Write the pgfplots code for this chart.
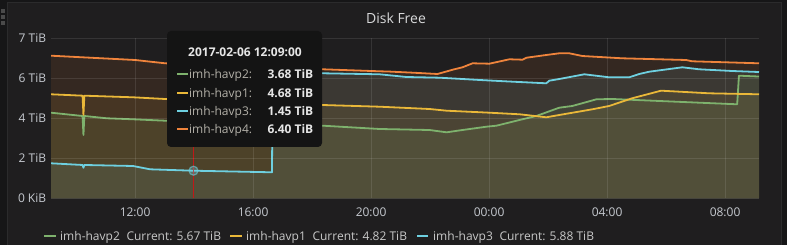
\documentclass[border=0pt]{standalone}
\usepackage{fontspec}
\setmainfont{Open Sans}
\usepackage{pgfplots}
\pgfplotsset{compat=1.18}
\usepackage{pgfplotstable}

\definecolor{cGreen}{HTML}{7EB26D}
\definecolor{cYellow}{HTML}{EAB839}
\definecolor{cCyan}{HTML}{6ED0E0}
\definecolor{cOrange}{HTML}{EF843C}
\definecolor{cRed}{HTML}{C01818}
\definecolor{panelbg}{HTML}{1F1E1F}
\definecolor{outerbg}{HTML}{161617}
\definecolor{panelborder}{HTML}{2B2B2C}
\definecolor{handle}{HTML}{4A4A4A}
\definecolor{axtext}{HTML}{C5C9CF}
\definecolor{titlec}{HTML}{D8D9DA}
\definecolor{tipbg}{HTML}{141414}
\definecolor{tipname}{HTML}{B3B0A8}
\definecolor{tipval}{HTML}{E6E6E6}
\definecolor{legtext}{HTML}{C8C8C8}

% imh-havp2
\pgfplotstableread{
h v
9.15 3.986
10.22 3.832
10.25 2.95
10.28 3.832
11.05 3.725
11.93 3.679
13.02 3.613
18.36 3.381
20.29 3.227
21.98 3.180
22.56 3.073
23.10 3.180
23.91 3.334
24.25 3.381
25.03 3.646
25.60 3.832
26.38 4.219
26.82 4.298
27.64 4.610
28.18 4.624
29.77 4.531
32.41 4.377
32.47 5.709
33.15 5.670
}\dGreen

% imh-havp1
\pgfplotstableread{
h v
9.15 4.843
10.22 4.778
10.25 3.88
10.28 4.778
11.93 4.703
13.02 4.624
18.36 4.344
20.29 4.265
21.98 4.158
22.56 4.079
24.01 3.986
25.03 3.912
25.94 3.772
26.38 3.879
27.50 4.144
28.07 4.298
28.85 4.657
29.83 5.011
31.46 4.889
33.15 4.843
}\dYellow

% imh-havp3
\pgfplotstableread{
h v
9.15 1.630
10.22 1.551
10.25 1.42
10.28 1.551
11.93 1.504
12.51 1.350
13.96 1.285
16.64 1.211
16.67 5.93
18.36 5.821
20.29 5.774
21.20 5.648
22.32 5.616
23.68 5.509
24.79 5.430
25.94 5.355
26.04 5.476
26.38 5.555
27.23 5.774
28.07 5.634
28.75 5.634
29.09 5.788
29.43 5.895
30.55 6.100
31.12 6.007
32.24 5.928
33.15 5.880
}\dCyan

% imh-havp4
\pgfplotstableread{
h v
9.15 6.640
12.00 6.440
13.02 6.286
15.50 6.150
18.36 6.007
20.29 5.914
20.63 5.900
21.41 5.849
22.25 5.788
22.80 6.000
23.10 6.100
23.44 6.286
24.01 6.268
24.69 6.473
25.13 6.454
25.27 6.547
25.94 6.673
26.38 6.752
26.72 6.752
27.16 6.626
28.51 6.519
30.68 6.440
30.88 6.380
33.15 6.286
}\dOrange

\begin{document}
\begin{tikzpicture}[x=1pt,y=1pt]
\useasboundingbox (0,0) rectangle (787,245);
\fill[outerbg] (0,0) rectangle (787,245);
\fill[panelbg] (7,0) rectangle (781,242);
\draw[panelborder, line width=1pt] (7,0) -- (7,242) -- (781,242) -- (781,0);
\fill[handle] (1,232) rectangle (5,235.5);
\fill[handle] (1,226) rectangle (5,229.5);
\fill[handle] (1,220) rectangle (5,223.5);

\node[anchor=base, inner sep=0pt, text=titlec, font=\fontsize{14}{16}\selectfont] at (396,221) {Disk Free};

\begin{axis}[
  at={(51pt,46.7pt)}, anchor=south west,
  scale only axis, width=708pt, height=160pt,
  xmin=9.15, xmax=33.15, ymin=0, ymax=7.4506,
  axis line style={draw=none}, major tick length=0pt,
  grid=major, major grid style={white, opacity=0.1, line width=0.8pt},
  axis on top,
  xtick={12,16,20,24,28,32},
  xticklabels={12:00,16:00,20:00,00:00,04:00,08:00},
  ytick={0,1.8626,3.7253,5.5879,7.4506},
  yticklabels={0 KiB,2 TiB,4 TiB,6 TiB,7 TiB},
  tick label style={font=\fontsize{12}{14}\selectfont, text=axtext},
  xticklabel style={yshift=-6.4pt},
  yticklabel style={xshift=-1.3pt},
  /pgf/number format/assume math mode=true,
]
\addplot[draw=none, fill=cGreen, fill opacity=0.1] table[x=h,y=v] {\dGreen} \closedcycle;
\addplot[draw=none, fill=cYellow, fill opacity=0.1] table[x=h,y=v] {\dYellow} \closedcycle;
\addplot[draw=none, fill=cCyan, fill opacity=0.1] table[x=h,y=v] {\dCyan} \closedcycle;
\addplot[draw=none, fill=cOrange, fill opacity=0.1] table[x=h,y=v] {\dOrange} \closedcycle;
\addplot[cGreen, line width=1.8pt, line join=round] table[x=h,y=v] {\dGreen};
\addplot[cYellow, line width=1.8pt, line join=round] table[x=h,y=v] {\dYellow};
\addplot[cCyan, line width=1.8pt, line join=round] table[x=h,y=v] {\dCyan};
\addplot[cOrange, line width=1.8pt, line join=round] table[x=h,y=v] {\dOrange};
\addplot[cRed, line width=1pt] coordinates {(13.98,0) (13.98,7.4506)};
\addplot[only marks, mark=*, mark size=4.5pt, mark options={draw=cCyan, draw opacity=0.6, fill=cCyan, fill opacity=0.3, line width=1.2pt}] coordinates {(13.98,1.285)};
\end{axis}

% tooltip
\fill[tipbg, rounded corners=4pt] (167,98) rectangle (322,214);
\node[anchor=base, inner sep=0pt, text=tipval, font=\bfseries\fontsize{12}{14}\selectfont] at (245,188) {2017-02-06 12:09:00};
\foreach \yy/\cc/\nn/\vv in {74/cGreen/imh-havp2:/3.68 TiB, 93/cYellow/imh-havp1:/4.68 TiB, 111/cCyan/imh-havp3:/1.45 TiB, 129/cOrange/imh-havp4:/6.40 TiB}{
  \fill[\cc] (177,{245-\yy-1.3}) rectangle (187.5,{245-\yy+1.3});
  \node[anchor=base west, inner sep=0pt, text=tipname, font=\fontsize{12}{14}\selectfont] at (189,{245-\yy-4.3}) {\nn};
  \node[anchor=base east, inner sep=0pt, text=tipval, font=\bfseries\fontsize{12}{14}\selectfont] at (313.5,{245-\yy-4.3}) {\vv};
}

% legend
\fill[cGreen] (44,7.6) rectangle (55.5,10.4);
\node[anchor=base west, inner sep=0pt, text=legtext, font=\fontsize{12}{14}\selectfont] at (60,4.7) {imh-havp2\hspace{3.5pt} Current: 5.67 TiB};
\fill[cYellow] (230,7.6) rectangle (241.5,10.4);
\node[anchor=base west, inner sep=0pt, text=legtext, font=\fontsize{12}{14}\selectfont] at (246,4.7) {imh-havp1\hspace{3.5pt} Current: 4.82 TiB};
\fill[cCyan] (416.5,7.6) rectangle (428,10.4);
\node[anchor=base west, inner sep=0pt, text=legtext, font=\fontsize{12}{14}\selectfont] at (433,4.7) {imh-havp3\hspace{3.5pt} Current: 5.88 TiB};
\end{tikzpicture}
\end{document}
